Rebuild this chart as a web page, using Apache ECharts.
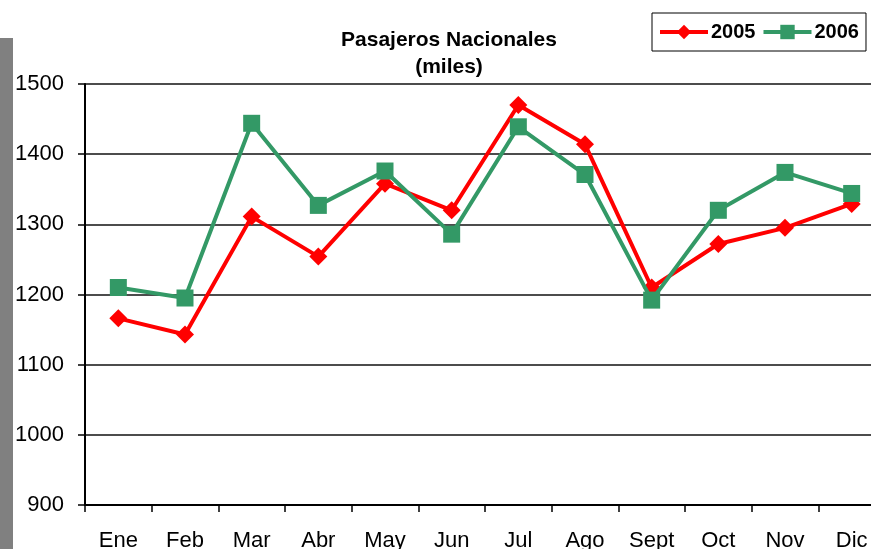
<!DOCTYPE html>
<html>
<head>
<meta charset="utf-8">
<script src="https://cdn.jsdelivr.net/npm/echarts@6/dist/echarts.min.js"></script>
<style>
  html, body { margin: 0; padding: 0; background: #fff; }
  #chart { width: 871px; height: 549px; }
</style>
</head>
<body>
<div id="chart"></div>
<script>
const meses = ['Ene', 'Feb', 'Mar', 'Abr', 'May', 'Jun', 'Jul', 'Ago', 'Sept', 'Oct', 'Nov', 'Dic'];
const serie2005 = [1166, 1143, 1311, 1254, 1358, 1320, 1470, 1414, 1210, 1272, 1295, 1329];
const serie2006 = [1210, 1195, 1444, 1327, 1376, 1286, 1439, 1371, 1192, 1320, 1374, 1344];
const yMin = 900, yMax = 1500, yStep = 100;

const chart = echarts.init(document.getElementById('chart'));
const fuente = 'Liberation Sans, Arial, sans-serif';

const option = {
  animation: false,
  backgroundColor: '#fff',
  textStyle: { fontFamily: fuente },
  title: {
    text: 'Pasajeros Nacionales\n(miles)',
    left: 444,
    top: 22,
    textAlign: 'center',
    textStyle: { fontSize: 21, fontWeight: 'bold', color: '#000', lineHeight: 27, fontFamily: fuente }
  },
  legend: {
    left: 652,
    top: 13,
    padding: [9, 7, 9, 6],
    borderColor: '#000',
    borderWidth: 1,
    itemWidth: 48,
    itemHeight: 18,
    itemGap: 6,
    lineStyle: { width: 4 },
    textStyle: { fontSize: 20, fontWeight: 'bold', color: '#000', padding: [0, 0, 0, -2] },
    data: ['2005', '2006']
  },
  graphic: [{
    type: 'rect',
    left: 0,
    top: 38,
    shape: { width: 13, height: 511 },
    style: { fill: '#808080' }
  }],
  grid: { left: 85, top: 84, width: 800, height: 421, outerBoundsMode: 'none', containLabel: false },
  xAxis: {
    type: 'category',
    data: meses,
    axisLine: { lineStyle: { color: '#000', width: 2 } },
    axisTick: { show: true, length: 7, lineStyle: { color: '#000', width: 1.5 } },
    axisLabel: { fontSize: 22, color: '#000', margin: 25 },
    splitLine: { show: false }
  },
  yAxis: {
    type: 'value',
    min: yMin,
    max: yMax,
    interval: yStep,
    axisLine: { show: true, lineStyle: { color: '#000', width: 2 } },
    axisTick: { show: true, length: 7, lineStyle: { color: '#000', width: 1.5 } },
    axisLabel: { fontSize: 22, color: '#000', margin: 21, formatter: v => String(v) },
    splitLine: { lineStyle: { color: '#111', width: 1.5 } }
  },
  series: [
    {
      name: '2005',
      type: 'line',
      data: serie2005,
      symbol: 'diamond',
      symbolSize: 18,
      lineStyle: { color: '#ff0000', width: 4 },
      itemStyle: { color: '#ff0000' },
      z: 2
    },
    {
      name: '2006',
      type: 'line',
      data: serie2006,
      symbol: 'rect',
      symbolSize: 17,
      lineStyle: { color: '#339966', width: 4 },
      itemStyle: { color: '#339966' },
      z: 3
    }
  ]
};

chart.setOption(option);
window.addEventListener('resize', () => chart.resize());
</script>
</body>
</html>
